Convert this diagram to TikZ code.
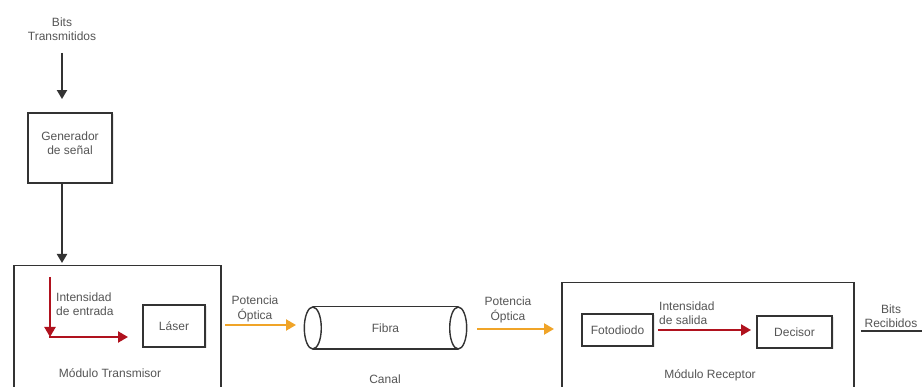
\documentclass[tikz,border=0pt]{standalone}
\usepackage{fontspec}
\setmainfont{Liberation Sans}
\usetikzlibrary{arrows.meta,shadows,calc}
\definecolor{txt}{HTML}{555555}
\definecolor{edge}{HTML}{333333}
\definecolor{redarr}{HTML}{B0121E}
\definecolor{orarr}{HTML}{F0A428}
\begin{document}
\begin{tikzpicture}[x=1pt,y=1pt,
  lbl/.style={text=txt, font=\fontsize{12}{14.5}\selectfont, align=center, inner sep=0pt},
  lblL/.style={lbl, align=left, anchor=west},
  box/.style={draw=edge, line width=1.9pt, fill=white, inner sep=0pt,
    drop shadow={opacity=0.18, shadow xshift=1.5pt, shadow yshift=-1.5pt}},
  modbox/.style={draw=edge, line width=1.5pt, fill=white, inner sep=0pt, anchor=north west,
    drop shadow={opacity=0.15, shadow xshift=1.5pt, shadow yshift=-1.5pt}},
  blk/.style={draw=edge, line width=2pt, -{Triangle[length=9pt,width=10pt]}},
  redar/.style={draw=redarr, line width=2.2pt, -{Triangle[length=10pt,width=11pt]}},
  orar/.style={draw=orarr, line width=2.2pt, -{Triangle[length=10pt,width=11pt]}},
  fib/.style={draw=edge, line width=1.4pt}]
\useasboundingbox (0,0) rectangle (922,386);
\clip (0,0) rectangle (922,386);
\fill[white] (0,0) rectangle (922,386);

% transmitter side
\node[lbl] (bt) at (62,357) {Bits\\Transmitidos};
\node[box, minimum width=84pt, minimum height=70pt] (gen) at (70,238) {};
\node[lbl] (genl) at (70,243) {Generador\\de señal};
\node[modbox, minimum width=207pt, minimum height=150pt] (trans) at (13,121) {};
\node[lbl] (transl) at (110,13) {Módulo Transmisor};
\node[box, minimum width=62pt, minimum height=42pt] (laser) at (174,60) {};
\node[lbl] (laserl) at (174,60) {Láser};
\node[lblL] (ient) at (56,82) {Intensidad\\de entrada};
\coordinate (r1) at (50,109);
\coordinate (r2) at (50,49);
\coordinate (r3) at (128,49);

\draw[blk, shorten <=12pt, shorten >=13pt] (bt.south) -- (bt.south |- gen.north);
\draw[blk, shorten >=2pt] (bt.south |- gen.south) -- (bt.south |- trans.north);
\draw[redar] (r1) -- (r2);
\draw[redar] ($(r2)+(-1.1,0)$) -- (r3);

% channel
\node[lbl] (po1) at (255,77) {Potencia\\Óptica};
\node[lbl, minimum width=145pt, minimum height=42pt] (fibra) at (385.5,58) {Fibra};
\draw[fib] (fibra.north west) -- (fibra.north east);
\draw[fib] (fibra.south west) -- (fibra.south east);
\draw[fib] (fibra.west) ellipse [x radius=8.5pt, y radius=21pt];
\draw[fib] (fibra.east) ellipse [x radius=8.5pt, y radius=21pt];
\node[lbl] (canal) at (385,7) {Canal};
\coordinate (o1a) at (225,61);
\coordinate (o1b) at (296,61);
\draw[orar] (o1a) -- (o1b);
\node[lbl] (po2) at (508,76) {Potencia\\Óptica};
\coordinate (o2a) at (477,57);
\coordinate (o2b) at (554,57);
\draw[orar] (o2a) -- (o2b);

% receiver side
\node[modbox, minimum width=292pt, minimum height=150pt] (recep) at (561,104) {};
\node[lbl] (recepl) at (710,11) {Módulo Receptor};
\node[box, minimum width=71pt, minimum height=32pt] (foto) at (617.5,56) {};
\node[lbl] (fotol) at (617.5,56) {Fotodiodo};
\node[box, minimum width=75pt, minimum height=32pt] (dec) at (794.5,54) {};
\node[lbl] (decl) at (794.5,54) {Decisor};
\node[lblL] (isal) at (659,73) {Intensidad\\de salida};
\draw[redar, shorten <=4pt, shorten >=5pt] (foto.east) -- (foto.east -| dec.west);
\node[lbl] (br) at (891,70) {Bits\\Recibidos};
\coordinate (brend) at (930,55);
\draw[edge, line width=1.5pt, shorten <=28pt] (dec.east |- brend) -- (brend);
\end{tikzpicture}
\end{document}
